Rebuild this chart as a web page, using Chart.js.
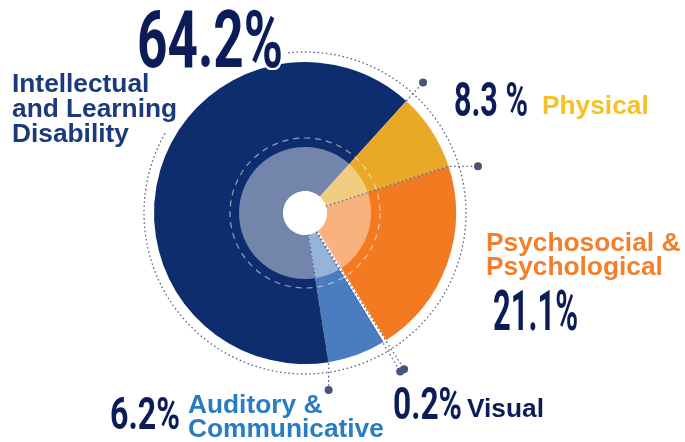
<!DOCTYPE html>
<html>
<head>
<meta charset="utf-8">
<script src="https://cdn.jsdelivr.net/npm/chart.js@4.4.1/dist/chart.umd.min.js"></script>
<style>
  html, body { margin: 0; padding: 0; background: #ffffff; }
  #wrap { position: relative; width: 685px; height: 442px; overflow: hidden; }
  canvas { position: absolute; left: 0; top: 0; }
  .cat { position: absolute; font-family: "Liberation Sans", Arial, sans-serif; font-weight: bold; font-size: 26.3px; white-space: nowrap; }
  .num { position: absolute; font-family: Roboto, "DejaVu Sans", sans-serif; font-weight: 700; line-height: 1; white-space: nowrap; color: #0b1c58;
         text-shadow: 2px 0 #fff, -2px 0 #fff, 0 2px #fff, 0 -2px #fff, 2px 2px #fff, -2px -2px #fff, 2px -2px #fff, -2px 2px #fff; }
  .num span { display: inline-block; transform-origin: 0 0; }
</style>
</head>
<body>
<div id="wrap">
  <canvas id="c" width="685" height="442"></canvas>
</div>
<script>
// ---- data ----
const categories = ['Intellectual and Learning Disability', 'Physical', 'Psychosocial & Psychological', 'Visual', 'Auditory & Communicative'];
const categoryLines = [['Intellectual', 'and Learning', 'Disability'], ['Physical'], ['Psychosocial &', 'Psychological'], ['Visual'], ['Auditory &', 'Communicative']];
const shares = [64.2, 8.3, 21.1, 0.2, 6.2];
const shareLabels = ['64.2%', '8.3 %', '21.1%', '0.2%', '6.2%'];

// ---- styling / layout ----
const sliceColors = ['#0e2d6e', '#e9a826', '#f47a21', '#ffffff', '#4a7dbf'];
const textColors = ['#1a3a7c', '#f5c125', '#f47f2a', '#0b1c58', '#2a7bc3'];
const catPos = [
  { left: 12, top: 70.5, lh: 25 },
  { left: 542, top: 92.5, lh: 25 },
  { left: 486, top: 230, lh: 24 },
  { left: 467, top: 395.5, lh: 25 },
  { left: 188, top: 392, lh: 24 }
];
const numPos = [
  { left: 137, top: 10, h: 57, w: 146 },
  { left: 454, top: 83, h: 34, w: 74 },
  { left: 493, top: 290, h: 40, w: 85 },
  { left: 393, top: 387, h: 32, w: 69 },
  { left: 110, top: 397, h: 32, w: 70 }
];

const wrap = document.getElementById('wrap');
categoryLines.forEach((lines, i) => {
  const d = document.createElement('div');
  d.className = 'cat';
  d.style.left = catPos[i].left + 'px';
  d.style.top = catPos[i].top + 'px';
  d.style.lineHeight = catPos[i].lh + 'px';
  d.style.color = textColors[i];
  lines.forEach((t, k) => {
    if (k) d.appendChild(document.createElement('br'));
    d.appendChild(document.createTextNode(t));
  });
  wrap.appendChild(d);
});
shareLabels.forEach((t, i) => {
  const p = numPos[i];
  const fs = p.h / 0.711;
  const d = document.createElement('div');
  d.className = 'num';
  d.style.fontSize = fs + 'px';
  d.style.left = p.left + 'px';
  d.style.top = (p.top - 0.131 * fs) + 'px';
  const s = document.createElement('span');
  s.textContent = t;
  d.appendChild(s);
  wrap.appendChild(d);
  const w = s.getBoundingClientRect().width;
  s.style.transform = 'scaleX(' + (p.w / w) + ')';
});

const deg = Math.PI / 180;
const decor = {
  id: 'decor',
  afterDatasetsDraw(chart) {
    const ctx = chart.ctx;
    const arcs = chart.getDatasetMeta(0).data;
    const a0 = arcs[0].getProps(['x', 'y', 'outerRadius', 'innerRadius'], true);
    const cx = a0.x, cy = a0.y, R = a0.outerRadius, r0 = a0.innerRadius;
    ctx.save();
    // translucent inner disk
    ctx.beginPath();
    ctx.arc(cx, cy, 66, 0, Math.PI * 2);
    ctx.fillStyle = 'rgba(255,255,255,0.42)';
    ctx.fill();
    // dashed ring
    ctx.beginPath();
    ctx.setLineDash([6, 5]);
    ctx.lineWidth = 1.2;
    ctx.strokeStyle = 'rgba(255,255,255,0.55)';
    ctx.arc(cx, cy, 75, 0, Math.PI * 2);
    ctx.stroke();
    // center hole
    ctx.setLineDash([]);
    ctx.beginPath();
    ctx.arc(cx, cy, r0, 0, Math.PI * 2);
    ctx.fillStyle = '#fff';
    ctx.fill();
    // outer dotted circle (open at the top-left)
    ctx.setLineDash([1.6, 2.6]);
    ctx.lineWidth = 1.3;
    ctx.strokeStyle = '#5b6688';
    ctx.beginPath();
    ctx.arc(cx, cy, R + 10, -96 * deg, 210 * deg);
    ctx.stroke();

    const pt = (ang, rad) => [cx + Math.cos(ang) * rad, cy + Math.sin(ang) * rad];
    const line = (pts) => {
      ctx.setLineDash([1.6, 2.6]);
      ctx.lineWidth = 1.3;
      ctx.strokeStyle = '#5b6688';
      ctx.beginPath();
      ctx.moveTo(pts[0][0], pts[0][1]);
      for (let k = 1; k < pts.length; k++) ctx.lineTo(pts[k][0], pts[k][1]);
      ctx.stroke();
      const e = pts[pts.length - 1];
      ctx.setLineDash([]);
      ctx.beginPath();
      ctx.arc(e[0], e[1], 4, 0, Math.PI * 2);
      ctx.fillStyle = '#4a5378';
      ctx.fill();
    };
    const ang = i => arcs[i].getProps(['startAngle', 'endAngle'], true);
    // Intellectual / Physical boundary
    const bY = ang(1).startAngle;
    line([pt(bY, R), pt(bY, R + 25)]);
    // Physical / Psychosocial boundary, then horizontal
    const yO = ang(2).startAngle;
    const e1 = pt(yO, R);
    line([pt(yO, r0), e1, [cx + R + 22, e1[1]]]);
    // Visual slice edges
    const v = ang(3);
    line([pt(v.startAngle - 0.006, r0), pt(v.startAngle - 0.006, R + 34)]);
    line([pt(v.endAngle + 0.006, r0), pt(v.endAngle + 0.006, R + 34)]);
    // Auditory / Intellectual boundary, then vertical
    const lb = ang(4).endAngle;
    const e2 = pt(lb, R);
    line([pt(lb, r0), e2, [e2[0], cy + R + 26]]);
    ctx.restore();
  }
};

new Chart(document.getElementById('c'), {
  type: 'doughnut',
  data: {
    labels: categories,
    datasets: [{
      data: shares,
      backgroundColor: sliceColors,
      borderWidth: [0, 0, 0, 3, 0],
      borderColor: '#ffffff'
    }]
  },
  options: {
    responsive: false,
    animation: false,
    events: [],
    rotation: 171,
    radius: 151,
    cutout: '14.5%',
    layout: { padding: { left: 0, right: 75, top: 0, bottom: 16 } },
    plugins: { legend: { display: false }, tooltip: { enabled: false } }
  },
  plugins: [decor]
});
</script>
</body>
</html>
